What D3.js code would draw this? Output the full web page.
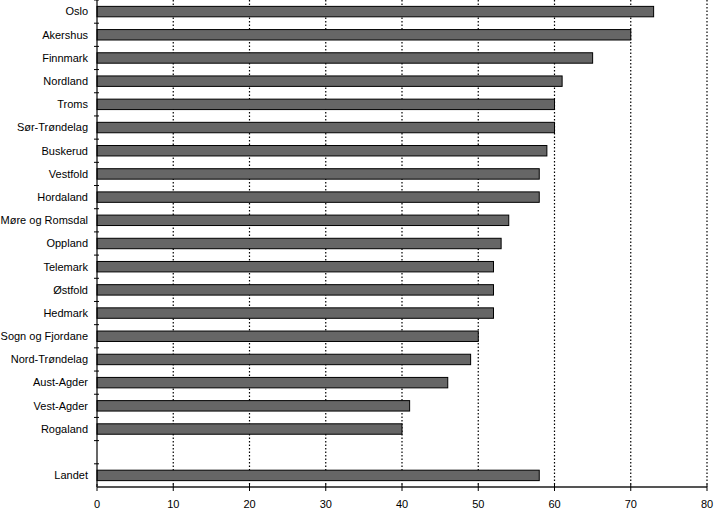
<!DOCTYPE html>
<html>
<head>
<meta charset="utf-8">
<script src="https://cdn.jsdelivr.net/npm/d3@7"></script>
<style>
body{margin:0;background:#fff}
svg{display:block}
text{font-family:"Liberation Sans",Arial,sans-serif;font-size:11px;fill:#000}
</style>
</head>
<body>
<div id="chart"></div>
<script>
const categories=["Oslo","Akershus","Finnmark","Nordland","Troms","Sør-Trøndelag","Buskerud","Vestfold","Hordaland","Møre og Romsdal","Oppland","Telemark","Østfold","Hedmark","Sogn og Fjordane","Nord-Trøndelag","Aust-Agder","Vest-Agder","Rogaland","","Landet"]
const values=[73,70,65,61,60,60,59,58,58,54,53,52,52,52,50,49,46,41,40,null,58]
const xTicks=[0,10,20,30,40,50,60,70,80]

const width=715
const height=511
const plotLeft=97
const plotRight=707
const plotTop=0
const plotBottom=487

const svg=d3.select("#chart")
.append("svg")
.attr("width",width)
.attr("height",height)

const x=d3.scaleLinear().domain([0,80]).range([plotLeft,plotRight])

const y=d3.scaleBand()
.domain(categories.map((c,i)=>i))
.range([plotTop,plotBottom])
.paddingInner(0.55)
.paddingOuter(0.275)

// dotted grid
svg.append("g")
.selectAll("line")
.data(xTicks.slice(1))
.enter()
.append("line")
.attr("x1",d=>x(d))
.attr("x2",d=>x(d))
.attr("y1",0)
.attr("y2",plotBottom)
.attr("stroke","#000")
.attr("stroke-width",1.2)
.attr("stroke-dasharray","1.5,2")

// bars
svg.append("g")
.selectAll("rect")
.data(values.map((v,i)=>({v:v,i:i})).filter(d=>d.v!==null))
.enter()
.append("rect")
.attr("x",x(0))
.attr("y",d=>y(d.i))
.attr("width",d=>x(d.v)-x(0))
.attr("height",y.bandwidth())
.attr("fill","#666666")
.attr("stroke","#000")
.attr("stroke-width",1)

// y axis
const step=y.step()
const yAxis=svg.append("g")
yAxis.append("line")
.attr("x1",plotLeft).attr("x2",plotLeft)
.attr("y1",0).attr("y2",plotBottom)
.attr("stroke","#000")
.attr("stroke-width",1.2)

yAxis.selectAll("line.tick")
.data(categories.map((c,i)=>i))
.enter()
.append("line")
.attr("class","tick")
.attr("x1",plotLeft-3)
.attr("x2",plotLeft+2)
.attr("y1",d=>y(d)-step*0.275)
.attr("y2",d=>y(d)-step*0.275)
.attr("stroke","#000")

yAxis.selectAll("text")
.data(categories)
.enter()
.append("text")
.attr("x",plotLeft-9)
.attr("y",(d,i)=>y(i)+y.bandwidth()/2)
.attr("dy","0.35em")
.attr("text-anchor","end")
.text(d=>d)

// x axis
const xAxis=svg.append("g")
xAxis.append("line")
.attr("x1",plotLeft).attr("x2",plotRight)
.attr("y1",plotBottom).attr("y2",plotBottom)
.attr("stroke","#555")
.attr("stroke-width",2)

xAxis.selectAll("line.tick")
.data(xTicks)
.enter()
.append("line")
.attr("class","tick")
.attr("x1",d=>x(d)).attr("x2",d=>x(d))
.attr("y1",plotBottom-3).attr("y2",plotBottom+4)
.attr("stroke","#000")

xAxis.selectAll("text")
.data(xTicks)
.enter()
.append("text")
.attr("x",d=>x(d))
.attr("y",508)
.attr("text-anchor","middle")
.text(d=>d)
</script>
</body>
</html>
